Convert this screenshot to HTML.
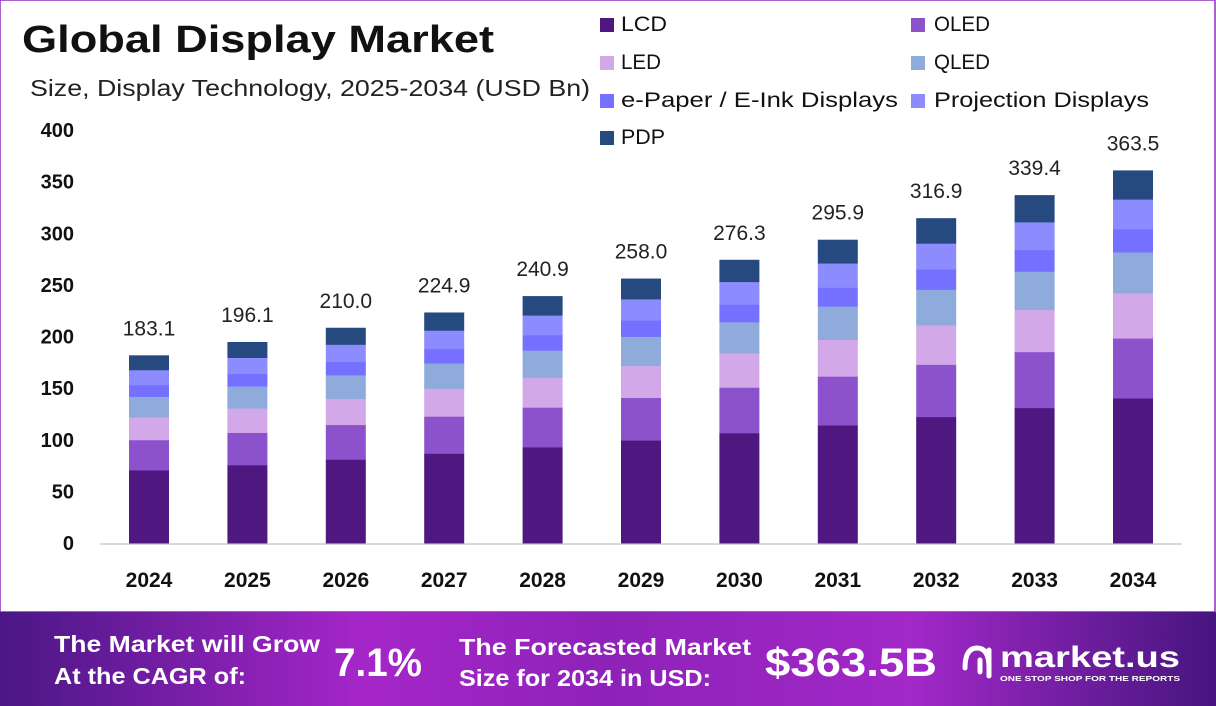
<!DOCTYPE html>
<html><head><meta charset="utf-8"><style>
body{margin:0;width:1216px;height:706px;overflow:hidden;background:#fff;font-family:"Liberation Sans",sans-serif}
</style></head><body>
<svg id="s" width="1216" height="706" xmlns="http://www.w3.org/2000/svg" style="position:absolute;left:0;top:0">
<defs>
<linearGradient id="g" x1="0" x2="1">
<stop offset="0" stop-color="#4a1785"/><stop offset="0.3" stop-color="#a626c9"/><stop offset="0.5" stop-color="#8e22b8"/><stop offset="0.75" stop-color="#a228c8"/><stop offset="1" stop-color="#46157e"/>
</linearGradient>
</defs>
<rect x="0" y="0" width="1216" height="612" fill="#fff"/>
<rect x="0" y="0" width="1215" height="612" fill="none" stroke="#8c2fc0" stroke-width="1.5"/>
<text x="22" y="52" font-size="38" font-weight="bold" fill="#111" textLength="472" lengthAdjust="spacingAndGlyphs">Global Display Market</text>
<text x="30" y="96" font-size="23" fill="#222" textLength="560" lengthAdjust="spacingAndGlyphs">Size, Display Technology, 2025-2034 (USD Bn)</text>
<line x1="100" y1="544" x2="1182" y2="544" stroke="#d9d9d9" stroke-width="2"/>
<g id="bars"></g>
<g font-size="21" fill="#111">
<rect x="600" y="18" width="14" height="14" fill="#4f1780"/><text x="621" y="31" textLength="46" lengthAdjust="spacingAndGlyphs">LCD</text>
<rect x="911" y="18" width="14" height="14" fill="#8c52cc"/><text x="934" y="31" textLength="56" lengthAdjust="spacingAndGlyphs">OLED</text>
<rect x="600" y="56" width="14" height="14" fill="#d3a8e8"/><text x="621" y="69" textLength="40" lengthAdjust="spacingAndGlyphs">LED</text>
<rect x="911" y="56" width="14" height="14" fill="#8eabdc"/><text x="934" y="69" textLength="56" lengthAdjust="spacingAndGlyphs">QLED</text>
<rect x="600" y="94" width="14" height="14" fill="#7570ff"/><text x="621" y="107" textLength="277" lengthAdjust="spacingAndGlyphs">e-Paper / E-Ink Displays</text>
<rect x="911" y="94" width="14" height="14" fill="#8c8cff"/><text x="934" y="107" textLength="215" lengthAdjust="spacingAndGlyphs">Projection Displays</text>
<rect x="600" y="131" width="14" height="14" fill="#264a80"/><text x="621" y="144" textLength="44" lengthAdjust="spacingAndGlyphs">PDP</text>
</g>
<rect x="0" y="612" width="1216" height="94" fill="url(#g)"/>
<g fill="#fff" font-weight="bold">
<text x="54" y="652" font-size="23" textLength="266" lengthAdjust="spacingAndGlyphs">The Market will Grow</text>
<text x="54" y="684" font-size="23" textLength="192" lengthAdjust="spacingAndGlyphs">At the CAGR of:</text>
<text x="334" y="676" font-size="40" textLength="88" lengthAdjust="spacingAndGlyphs">7.1%</text>
<text x="459" y="655" font-size="23" textLength="292" lengthAdjust="spacingAndGlyphs">The Forecasted Market</text>
<text x="459" y="686" font-size="23" textLength="252" lengthAdjust="spacingAndGlyphs">Size for 2034 in USD:</text>
<text x="765" y="676" font-size="40" textLength="172" lengthAdjust="spacingAndGlyphs">$363.5B</text>
<text x="1000" y="667" font-size="30" textLength="180" lengthAdjust="spacingAndGlyphs">market.us</text>
<text x="1000" y="681" font-size="7" textLength="180" lengthAdjust="spacingAndGlyphs">ONE STOP SHOP FOR THE REPORTS</text>
<path d="M965 668 q0-20 12-20 q12 0 12 20 M989 650 v26 M980 660 v12" stroke="#fff" stroke-width="5" fill="none" stroke-linecap="round"/>
</g>
</svg>
<script>
var g=document.getElementById('bars'),h='';
var yrs=[2024,2025,2026,2027,2028,2029,2030,2031,2032,2033,2034];
var v=[183.1,196.1,210.0,224.9,240.9,258.0,276.3,295.9,316.9,339.4,363.5];
var fr=[0.389,0.161,0.121,0.110,0.062,0.080,0.077];
var col=['#4f1780','#8c52cc','#d3a8e8','#8eabdc','#7570ff','#8c8cff','#264a80'];
var base=543,k=1.025;
for(var t=0;t<=400;t+=50){h+='<text x="74" y="'+(543-t*1.0325+7)+'" font-size="20" font-weight="bold" text-anchor="end" fill="#111">'+t+'</text>';}
for(var i=0;i<11;i++){var cx=149+i*98.4,tot=v[i]*k,y=base;
for(var j=0;j<7;j++){var hh=tot*fr[j];h+='<rect x="'+(cx-20)+'" y="'+(y-hh)+'" width="40" height="'+(hh+0.5)+'" fill="'+col[j]+'"/>';y-=hh;}
h+='<text x="'+cx+'" y="'+(base-tot-20)+'" font-size="21" text-anchor="middle" fill="#222">'+v[i].toFixed(1)+'</text>';
h+='<text x="'+cx+'" y="587" font-size="21" font-weight="bold" text-anchor="middle" fill="#111">'+yrs[i]+'</text>';}
g.innerHTML=h;
</script>
</body></html>
